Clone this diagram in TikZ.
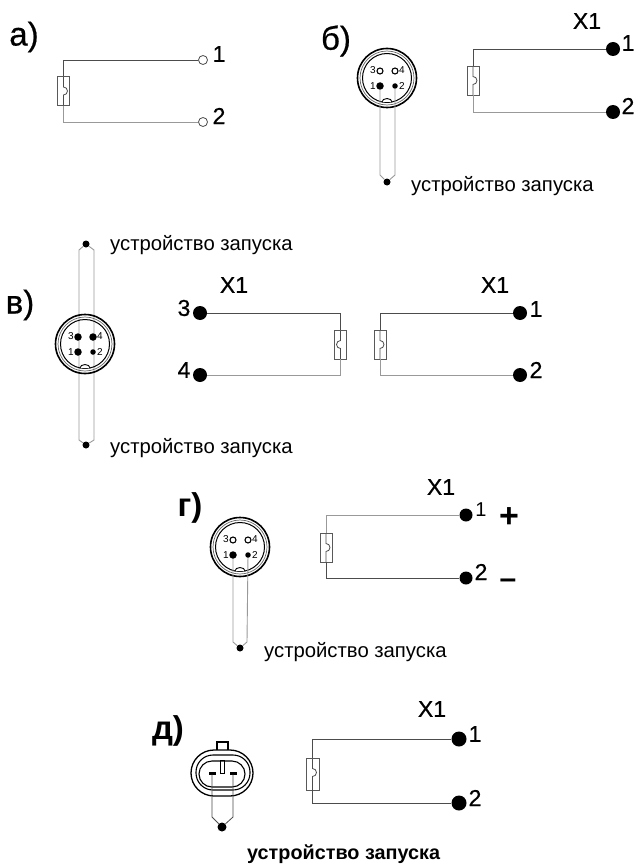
\documentclass[tikz,border=0pt]{standalone}
\usepackage{fontspec}
\setmainfont{Liberation Sans}
\newfontfamily\heavy[FakeStretch=1.0,FakeBold=0.6]{Liberation Sans}
\newcommand{\fsz}[1]{\fontsize{#1}{#1}\selectfont}
\tikzset{
  wire/.style={draw=black!70,line width=0.8pt},
  lightwire/.style={draw=black!40,line width=0.9pt},
  opent/.style={circle,draw=black!70,fill=white,line width=0.8pt,minimum size=9pt,inner sep=0pt},
  term/.style={circle,fill=black,minimum size=14pt,inner sep=0pt},
  dotend/.style={circle,fill=black,minimum size=7pt,inner sep=0pt},
  pinfull/.style={circle,fill=black,minimum size=7.5pt,inner sep=0pt},
  pinopen/.style={circle,draw=black,fill=white,line width=1.1pt,minimum size=6pt,inner sep=0pt},
  heater/.style={rectangle,draw=black!65,line width=0.8pt,minimum width=12pt,minimum height=29pt,inner sep=0pt,
    path picture={\draw[black!70,line width=0.8pt] (path picture bounding box.north) -- ++(0,-10.5pt) arc (90:-90:4pt) -- (path picture bounding box.south);}},
  heaterl/.style={heater,
    path picture={\draw[black!70,line width=0.8pt] (path picture bounding box.north) -- ++(0,-10.5pt) arc (90:270:4pt) -- (path picture bounding box.south);}},
  lab/.style={inner sep=0pt,font=\heavy\fsz{23}},
  big/.style={inner sep=0pt,font=\heavy\fsz{33}},
  captext/.style={inner sep=0pt,anchor=west,font=\fsz{20.3}},
  small/.style={inner sep=0pt,font=\fsz{10}},
  ringa/.style={circle,draw=black,line width=1.6pt,minimum size=59pt,inner sep=0pt},
  ringb/.style={circle,draw=black!60,line width=0.7pt,minimum size=54pt,inner sep=0pt},
  ringc/.style={circle,draw=black,line width=1pt,minimum size=49pt,inner sep=0pt},
}
% round four-pin plug: name, x, y, style of upper pins
\newcommand{\plug}[4]{%
  \begin{scope}[shift={(#2,#3)}]
    \node[ringa] (#1a) at (0,0) {};
    \node[ringb] (#1b) at (0,0) {};
    \node[ringc] (#1c) at (0,0) {};
    \draw[black,line width=0.9pt,fill=white] (-5,-24) arc (180:0:5 and 3.5);
    \node[#4] (#1p3) at (-7,7) {};
    \node[#4] (#1p4) at (8,7) {};
    \node[pinfull] (#1p1) at (-7,-8) {};
    \node[pinfull,minimum size=5.5pt] (#1p2) at (8,-8) {};
    \node[small] (#1l3) at (-14,8) {3};
    \node[small] (#1l4) at (15,8) {4};
    \node[small] (#1l1) at (-14,-8) {1};
    \node[small] (#1l2) at (15,-8) {2};
  \end{scope}}
\begin{document}
\begin{tikzpicture}[x=1pt,y=1pt]
\useasboundingbox (0,0) rectangle (637,-864);
\fill[white] (0,0) rectangle (637,-864);

% a)
\node[big] (la) at (24,-37) {а)};
\node[opent] (a1) at (203,-60) {};
\node[opent] (a2) at (203,-122) {};
\node[heater] (ah) at (63.5,-91) {};
\draw[wire] (a1) -| (ah.north);
\draw[lightwire] (a2) -| (ah.south);
\node[lab] (a1l) at (219,-54) {1};
\node[lab] (a2l) at (219,-116) {2};

% b)
\node[big] (lb) at (336,-41) {б)};
\plug{b}{387}{-78}{pinopen}
\coordinate (bc1) at (380,-175);
\coordinate (bc2) at (395,-175);
\node[dotend] (bd) at (387,-182) {};
\draw[lightwire] (bp1) -- (bc1) -- (bd);
\draw[lightwire] (bp2) -- (bc2) -- (bd);
\node[term] (b1) at (613,-49) {};
\node[term] (b2) at (613,-112) {};
\node[heater] (bh) at (473,-80.5) {};
\draw[wire] (b1) -| (bh.north);
\draw[lightwire] (b2) -| (bh.south);
\node[lab] (bx) at (587,-21) {X1};
\node[lab] (b1l) at (628,-43) {1};
\node[lab] (b2l) at (628,-106) {2};
\node[captext] (bt) at (411,-186) {устройство запуска};

% v)
\node[big] (lv) at (20,-305) {в)};
\node[dotend] (vd1) at (86,-244) {};
\node[dotend] (vd2) at (86,-445) {};
\coordinate (vc1) at (79,-250);
\coordinate (vc2) at (94,-250);
\coordinate (vc3) at (79,-440);
\coordinate (vc4) at (94,-440);
\draw[lightwire] (vd1) -- (vc1) -- (vc3) -- (vd2);
\draw[lightwire] (vd1) -- (vc2) -- (vc4) -- (vd2);
\plug{v}{85}{-344}{pinfull}
\node[captext] (vt1) at (110,-245) {устройство запуска};
\node[captext] (vt2) at (110,-448) {устройство запуска};
\node[lab] (vx1) at (234,-285) {X1};
\node[lab] (vx2) at (495,-285) {X1};
\node[term] (v3) at (200,-313) {};
\node[term] (v4) at (200,-375) {};
\node[term] (v1) at (520,-313) {};
\node[term] (v2) at (520,-375) {};
\node[heaterl] (vh1) at (340.5,-344.5) {};
\node[heater] (vh2) at (380,-344.5) {};
\draw[wire] (v3) -| (vh1.north);
\draw[lightwire] (v4) -| (vh1.south);
\draw[wire] (v1) -| (vh2.north);
\draw[lightwire] (v2) -| (vh2.south);
\node[lab] (v3l) at (184,-308) {3};
\node[lab] (v4l) at (184,-370) {4};
\node[lab] (v1l) at (536,-309) {1};
\node[lab] (v2l) at (536,-370) {2};

% g)
\node[big,font=\fsz{33}\bfseries] (lg) at (190,-508) {г)};
\plug{g}{240}{-547}{pinopen}
\coordinate (gc1) at (233,-642);
\coordinate (gc2) at (247,-642);
\node[dotend] (gd) at (240,-648) {};
\draw[lightwire] (gp1) -- (gc1) -- (gd);
\draw[lightwire] (gp2) -- (gc2) -- (gd);
\node[term,minimum size=13pt] (g1) at (466,-515) {};
\node[term,minimum size=13pt] (g2) at (466,-578) {};
\node[heater] (gh) at (326,-547.5) {};
\draw[lightwire] (g1) -| (gh.north);
\draw[wire] (g2) -| (gh.south);
\node[lab] (gx) at (441,-487) {X1};
\node[lab,font=\fsz{20}] (g1l) at (481,-510) {1};
\node[lab] (g2l) at (481,-572) {2};
\node[inner sep=0pt,font=\fsz{34}\bfseries] (gp) at (509,-518) {+};
\node[inner sep=0pt,font=\fsz{30}\bfseries] (gm) at (508,-584) {–};
\node[captext] (gt) at (264,-652) {устройство запуска};

% d)
\node[big,font=\fsz{33}\bfseries] (ld) at (168,-731) {д)};
\draw[black,line width=1.1pt,fill=white] (217,-752) rectangle (228,-742);
\draw[black,line width=1.3pt,fill=white,rounded corners=23pt] (191,-750) rectangle (253,-796);
\draw[black,line width=1.1pt,rounded corners=17pt] (196,-755) rectangle (250,-790);
\draw[black,line width=1.1pt,rounded corners=13pt] (199,-761) rectangle (245,-787);
\node[rectangle,draw=black,line width=0.8pt,minimum width=3.5pt,minimum height=13pt,inner sep=0pt] (dk) at (222.5,-766.5) {};
\node[rectangle,fill=black,minimum width=7pt,minimum height=3pt,inner sep=0pt] (dp1) at (212,-773) {};
\node[rectangle,fill=black,minimum width=7pt,minimum height=3pt,inner sep=0pt] (dp2) at (233,-773) {};
\coordinate (dc1) at (212,-817);
\coordinate (dc2) at (233,-817);
\node[dotend,minimum size=9pt] (dd) at (222,-827) {};
\draw[wire] (dp1) -- (dc1) -- (dd);
\draw[wire] (dp2) -- (dc2) -- (dd);
\node[term,minimum size=15pt] (d1) at (459,-739) {};
\node[term,minimum size=15pt] (d2) at (459,-803) {};
\node[heater,minimum height=32pt,minimum width=13pt] (dh) at (312.5,-774) {};
\draw[wire] (d1) -| (dh.north);
\draw[wire] (d2) -| (dh.south);
\node[lab] (dx) at (432,-709) {X1};
\node[lab] (d1l) at (475,-734) {1};
\node[lab] (d2l) at (475,-798) {2};
\node[captext,font=\fsz{19.8}\bfseries] (dt) at (247,-854) {устройство запуска};
\end{tikzpicture}
\end{document}
